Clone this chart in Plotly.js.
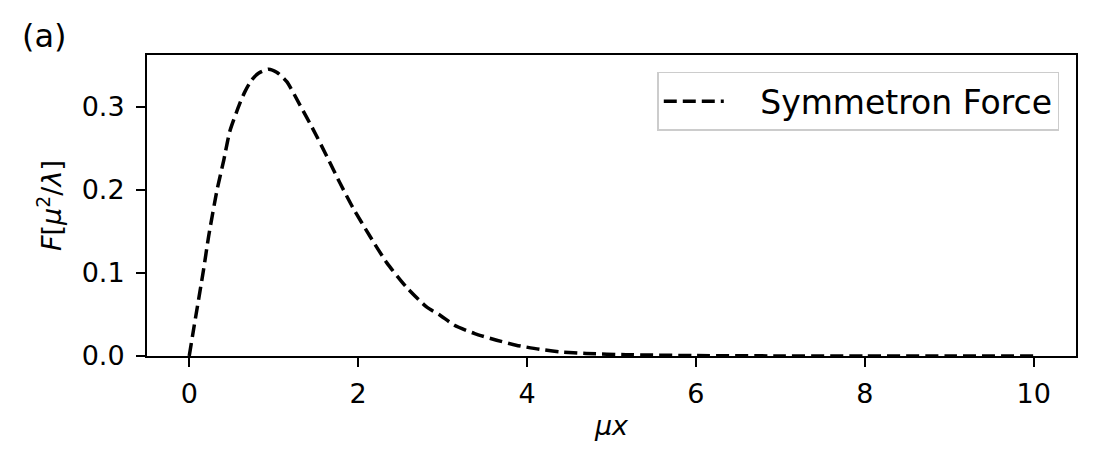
<!DOCTYPE html>
<html>
<head>
<meta charset="utf-8">
<script src="https://cdn.plot.ly/plotly-3.0.1.min.js"></script>
<style>
  html, body { margin: 0; padding: 0; background: #ffffff; }
  #chart { width: 1096px; height: 464px; }
</style>
</head>
<body>
<div id="chart"></div>
<script>
// Values (mu*x, force in units of mu^2/lambda)
const muX = [0, 0.05, 0.17, 0.23, 0.33, 0.41, 0.48, 0.6, 0.66, 0.74, 0.82, 0.94, 1.04, 1.155, 1.31, 1.47, 1.63,
  1.785, 1.94, 2.14, 2.34, 2.57, 2.81, 2.97, 3.14, 3.38, 3.64, 3.87, 4.15, 4.39, 4.7, 5.17,
  6, 7, 8, 9, 10];
const force = [0, 0.031, 0.104, 0.144, 0.2, 0.236, 0.27, 0.304, 0.318, 0.332, 0.340, 0.345, 0.341, 0.330, 0.302, 0.272, 0.24,
  0.208, 0.178, 0.144, 0.112, 0.083, 0.059, 0.049, 0.037, 0.027, 0.019, 0.013, 0.008, 0.005, 0.003, 0.0016,
  0.0005, 0.0001, 0, 0, 0];
const xTicks = [0, 2, 4, 6, 8, 10];
const yTicks = [0.0, 0.1, 0.2, 0.3];
const seriesName = 'Symmetron Force';

const font = 'DejaVu Sans, sans-serif';

// a few non-breaking spaces keep matplotlib's gap between legend line and label
const pad = '\u00a0\u00a0\u00a0';

const traces = [{
  x: muX,
  y: force,
  mode: 'lines',
  name: pad + seriesName,
  line: { color: '#000000', width: 3.5, dash: '13px,6px', shape: 'spline', smoothing: 0.6 }
}];

const axisCommon = {
  showgrid: false,
  zeroline: false,
  showline: true,
  linecolor: '#000000',
  linewidth: 2,
  mirror: true,
  ticks: 'outside',
  ticklen: 9,
  tickwidth: 2,
  tickcolor: '#000000',
  tickfont: { family: font, size: 27, color: '#000000' }
};

const layout = {
  width: 1096,
  height: 464,
  paper_bgcolor: '#ffffff',
  plot_bgcolor: '#ffffff',
  margin: { l: 147, r: 20, t: 55, b: 108 },
  showlegend: true,
  xaxis: Object.assign({}, axisCommon, {
    range: [-0.5, 10.5],
    tickvals: xTicks,
    ticktext: xTicks.map(String),
    ticklabelstandoff: 4,
    title: { text: '<i>μx</i>', font: { family: font, size: 27, color: '#000000' }, standoff: 8 }
  }),
  yaxis: Object.assign({}, axisCommon, {
    range: [0, 0.362],
    tickvals: yTicks,
    ticktext: yTicks.map(v => v.toFixed(1)),
    ticklabelstandoff: 6,
    title: { text: '<i>F</i>[<i>μ</i><sup>2</sup>/<i>λ</i>]', font: { family: font, size: 27, color: '#000000' }, standoff: 12 }
  }),
  legend: {
    x: 0.982,
    y: 0.944,
    xanchor: 'right',
    yanchor: 'top',
    bgcolor: 'rgba(255,255,255,0.8)',
    bordercolor: '#cccccc',
    borderwidth: 1.5,
    itemwidth: 60,
    font: { family: font, size: 33, color: '#000000' }
  },
  annotations: [{
    text: '(a)',
    xref: 'paper',
    yref: 'paper',
    x: -0.137,
    y: 1.063,
    xanchor: 'left',
    yanchor: 'middle',
    showarrow: false,
    font: { family: font, size: 32, color: '#000000' }
  }]
};

Plotly.newPlot('chart', traces, layout, { staticPlot: true, displayModeBar: false });
</script>
</body>
</html>
